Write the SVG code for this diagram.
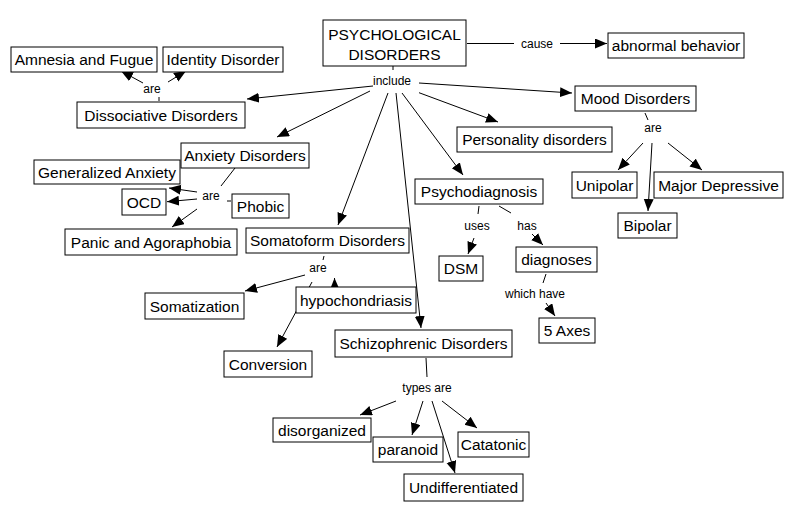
<svg xmlns="http://www.w3.org/2000/svg" width="798" height="520" viewBox="0 0 798 520">
<style>
.n rect{fill:#fff;stroke:#000;stroke-width:1}
.n text{font-family:"Liberation Sans",Arial,sans-serif;font-size:15.5px;text-anchor:middle;fill:#000}
.c line{stroke:#000;stroke-width:1}
.c line.a{marker-end:url(#ah)}
.lbl{font-family:"Liberation Sans",Arial,sans-serif;font-size:12px;text-anchor:middle;fill:#000}
</style>
<defs>
<marker id="ah" markerUnits="userSpaceOnUse" markerWidth="13" markerHeight="11" refX="12" refY="5" orient="auto">
<path d="M0,0 L12,5 L0,10 z" fill="#000"/>
</marker>
</defs>
<rect width="798" height="520" fill="#fff"/>
<g id="connectors" class="c">
<line x1="467" y1="43.5" x2="514" y2="43.5"/>
<line class="a" x1="560" y1="43.5" x2="607" y2="43.5"/>
<line x1="393" y1="66" x2="393" y2="70"/>
<line class="a" x1="373" y1="86" x2="247" y2="99"/>
<line class="a" x1="370" y1="91" x2="277" y2="137"/>
<line class="a" x1="388" y1="93" x2="338" y2="225"/>
<line class="a" x1="396" y1="93" x2="421" y2="328"/>
<line class="a" x1="402" y1="93" x2="463" y2="175"/>
<line class="a" x1="419" y1="92.7" x2="498" y2="122"/>
<line class="a" x1="419" y1="83" x2="572" y2="93"/>
<line x1="159" y1="97" x2="159" y2="101"/>
<line class="a" x1="143" y1="83" x2="121" y2="71"/>
<line class="a" x1="168" y1="82" x2="186" y2="71"/>
<line x1="235" y1="168" x2="221" y2="186"/>
<line class="a" x1="197" y1="192" x2="169" y2="188"/>
<line class="a" x1="197" y1="199" x2="167" y2="201.7"/>
<line class="a" x1="197" y1="209" x2="172" y2="227"/>
<line x1="227" y1="201" x2="231" y2="201"/>
<line x1="645" y1="113" x2="648" y2="120"/>
<line class="a" x1="643" y1="143" x2="618" y2="170"/>
<line class="a" x1="652" y1="143" x2="648" y2="211"/>
<line class="a" x1="668" y1="143" x2="702" y2="170"/>
<line x1="479" y1="206" x2="478" y2="214"/>
<line x1="499" y1="206" x2="511" y2="213"/>
<line class="a" x1="474" y1="238" x2="468" y2="254"/>
<line class="a" x1="532" y1="234" x2="543" y2="245"/>
<line x1="546" y1="274" x2="543" y2="283"/>
<line class="a" x1="546" y1="303" x2="555" y2="316"/>
<line x1="324" y1="256" x2="323" y2="260"/>
<line class="a" x1="305" y1="275" x2="245" y2="291"/>
<line class="a" x1="312" y1="282" x2="277" y2="347"/>
<line class="a" x1="335" y1="300" x2="334.5" y2="278"/>
<line x1="426" y1="358" x2="427" y2="377"/>
<line class="a" x1="396" y1="401" x2="360" y2="415"/>
<line class="a" x1="423" y1="401" x2="412" y2="435"/>
<line class="a" x1="432" y1="401" x2="455" y2="473"/>
<line class="a" x1="442" y1="401" x2="477" y2="428"/>
</g>
<g id="labels">
<text class="lbl" x="537" y="48">cause</text>
<text class="lbl" x="392" y="85">include</text>
<text class="lbl" x="152" y="93">are</text>
<text class="lbl" x="211" y="200">are</text>
<text class="lbl" x="653" y="132">are</text>
<text class="lbl" x="477" y="230">uses</text>
<text class="lbl" x="527" y="230">has</text>
<text class="lbl" x="535" y="298">which have</text>
<text class="lbl" x="318" y="272">are</text>
<text class="lbl" x="427" y="392">types are</text>
</g>
<g id="psy" class="n"><rect x="323" y="20" width="143" height="46"/><text x="394.5" y="40">PSYCHOLOGICAL</text><text x="394.5" y="60">DISORDERS</text></g>
<g id="abnormal" class="n"><rect x="608" y="33" width="136" height="25"/><text x="676" y="51">abnormal behavior</text></g>
<g id="amnesia" class="n"><rect x="11" y="47" width="146" height="25"/><text x="84" y="65">Amnesia and Fugue</text></g>
<g id="identity" class="n"><rect x="163" y="47" width="120" height="25"/><text x="223" y="65">Identity Disorder</text></g>
<g id="dissociative" class="n"><rect x="77" y="102" width="168" height="26"/><text x="161" y="120.5">Dissociative Disorders</text></g>
<g id="mood" class="n"><rect x="575" y="86" width="121" height="25"/><text x="635.5" y="104">Mood Disorders</text></g>
<g id="personality" class="n"><rect x="457" y="127" width="155" height="25"/><text x="534.5" y="145">Personality disorders</text></g>
<g id="anxiety" class="n"><rect x="181" y="143" width="128" height="25"/><text x="245" y="161">Anxiety Disorders</text></g>
<g id="generalized" class="n"><rect x="34" y="160" width="146" height="24"/><text x="107" y="177.5">Generalized Anxiety</text></g>
<g id="ocd" class="n"><rect x="122" y="189" width="44" height="26"/><text x="144" y="207.5">OCD</text></g>
<g id="phobic" class="n"><rect x="232" y="194" width="57" height="24"/><text x="260.5" y="211.5">Phobic</text></g>
<g id="panic" class="n"><rect x="65" y="229" width="172" height="26"/><text x="151" y="247.5">Panic and Agoraphobia</text></g>
<g id="somatoform" class="n"><rect x="246" y="228" width="163" height="25"/><text x="327.5" y="246">Somatoform Disorders</text></g>
<g id="psychodiagnosis" class="n"><rect x="415" y="179" width="128" height="25"/><text x="479" y="197">Psychodiagnosis</text></g>
<g id="unipolar" class="n"><rect x="572" y="172" width="65" height="26"/><text x="604.5" y="190.5">Unipolar</text></g>
<g id="majordep" class="n"><rect x="654" y="172" width="129" height="26"/><text x="718.5" y="190.5">Major Depressive</text></g>
<g id="bipolar" class="n"><rect x="618" y="213" width="59" height="25"/><text x="647.5" y="231">Bipolar</text></g>
<g id="dsm" class="n"><rect x="439" y="256" width="44" height="25"/><text x="461" y="274">DSM</text></g>
<g id="diagnoses" class="n"><rect x="516" y="247" width="81" height="25"/><text x="556.5" y="265">diagnoses</text></g>
<g id="axes" class="n"><rect x="539" y="318" width="56" height="25"/><text x="567" y="336">5 Axes</text></g>
<g id="somatization" class="n"><rect x="145" y="293" width="99" height="26"/><text x="194.5" y="311.5">Somatization</text></g>
<g id="hypochondriasis" class="n"><rect x="296" y="287" width="120" height="26"/><text x="356" y="305.5">hypochondriasis</text></g>
<g id="conversion" class="n"><rect x="224" y="351" width="88" height="26"/><text x="268" y="369.5">Conversion</text></g>
<g id="schizophrenic" class="n"><rect x="335" y="330" width="177" height="27"/><text x="423.5" y="349">Schizophrenic Disorders</text></g>
<g id="disorganized" class="n"><rect x="273" y="418" width="98" height="24"/><text x="322" y="435.5">disorganized</text></g>
<g id="paranoid" class="n"><rect x="373" y="437" width="70" height="25"/><text x="408" y="455">paranoid</text></g>
<g id="catatonic" class="n"><rect x="458" y="432" width="71" height="25"/><text x="493.5" y="450">Catatonic</text></g>
<g id="undifferentiated" class="n"><rect x="404" y="474" width="119" height="27"/><text x="463.5" y="493">Undifferentiated</text></g>
</svg>
